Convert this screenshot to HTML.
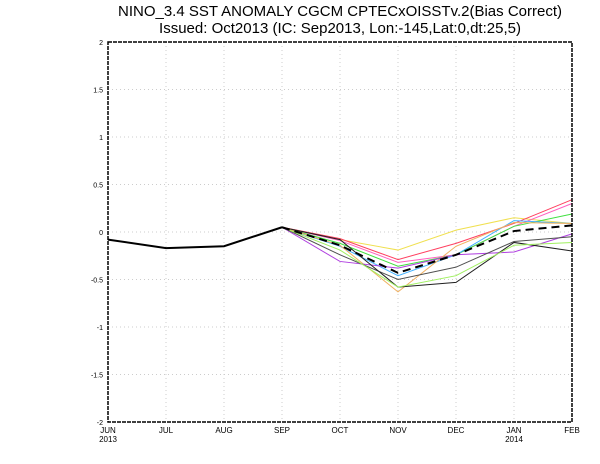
<!DOCTYPE html>
<html><head><meta charset="utf-8"><style>
body{margin:0;background:#fff}
svg{display:block}
text{font-family:"Liberation Sans",sans-serif}
</style></head><body>
<svg id="chart" width="600" height="464">
<text x="340" y="16" font-size="15" text-anchor="middle">NINO_3.4 SST ANOMALY CGCM CPTECxOISSTv.2(Bias Correct)</text>
<text x="340" y="33" font-size="15" text-anchor="middle">Issued: Oct2013 (IC: Sep2013, Lon:-145,Lat:0,dt:25,5)</text>
<g id="grid"></g><g id="series"></g><g id="axes"></g>
</svg>
<script>
const months=["JUN","JUL","AUG","SEP","OCT","NOV","DEC","JAN","FEB"];
const years=["2013","","","","","","","2014",""];
const yTicks=[2,1.5,1,0.5,0,-0.5,-1,-1.5,-2];
const yTickLabels=["2","1.5","1","0.5","0","-0.5","-1","-1.5","-2"];
const observed=[-0.08,-0.17,-0.15,0.05];
const memberColors=["#f0e050","#ff4060","#ff60c0","#40e040","#40b0ff","#f0b060","#b040e0","#505050","#202020","#a0f060"];
const memberYellow=[0.05,-0.08,-0.19,0.02,0.15,0.09];
const memberRed=[0.05,-0.07,-0.29,-0.12,0.09,0.34];
const memberPink=[0.05,-0.09,-0.32,-0.24,0.06,0.30];
const memberGreen=[0.05,-0.12,-0.36,-0.24,0.06,0.19];
const memberCyan=[0.05,-0.15,-0.46,-0.24,0.12,0.09];
const memberOrange=[0.05,-0.14,-0.63,-0.15,0.10,0.09];
const memberPurple=[0.05,-0.31,-0.38,-0.24,-0.21,-0.02];
const memberGray=[0.05,-0.24,-0.50,-0.37,-0.10,-0.05];
const memberBlack=[0.05,-0.08,-0.58,-0.53,-0.11,-0.20];
const memberLime=[0.05,-0.19,-0.58,-0.46,-0.14,-0.11];
const ensembleMean=[0.05,-0.14,-0.43,-0.24,0.01,0.07];
const members=[memberYellow,memberRed,memberPink,memberGreen,memberCyan,memberOrange,memberPurple,memberGray,memberBlack,memberLime];
const memberNames=["yellow","red","pink","green","cyan","orange","purple","gray","black","lime"];
const L=108,R=572,T=42,B=422,ymin=-2,ymax=2;
const xs=i=>L+i*(R-L)/(months.length-1);
const ys=v=>B-(v-ymin)/(ymax-ymin)*(B-T);
const NS="http://www.w3.org/2000/svg";
function mk(tag,attrs,parent){const e=document.createElementNS(NS,tag);for(const k in attrs)e.setAttribute(k,attrs[k]);parent.appendChild(e);return e;}
const grid=document.getElementById("grid"),ser=document.getElementById("series"),ax=document.getElementById("axes");
months.forEach((m,i)=>{
 if(i>0&&i<months.length-1){const g=mk("line",{x1:xs(i),x2:xs(i),y1:T,y2:B,stroke:"#ccc","stroke-dasharray":"1,3"},grid);
 
 }
 const t=mk("text",{x:xs(i),y:B+11,"font-size":"8","text-anchor":"middle"},ax);t.textContent=m;
 
 
 if(years[i]){const y=mk("text",{x:xs(i),y:B+20,"font-size":"8","text-anchor":"middle"},ax);y.textContent=years[i];
 
 }
});
yTicks.forEach((v,i)=>{
 if(v>ymin&&v<ymax){const g=mk("line",{x1:L,x2:R,y1:ys(v),y2:ys(v),stroke:"#ccc","stroke-dasharray":"1,3"},grid);
 
 }
 const t=mk("text",{x:L-5,y:ys(v)+3,"font-size":"7","text-anchor":"end"},ax);t.textContent=yTickLabels[i];
 
 
});
const fr=mk("rect",{x:L,y:T,width:R-L,height:B-T,fill:"none",stroke:"#000","stroke-width":"1.5","stroke-dasharray":"4,1"},ax);


function pts(arr,off){return arr.map((v,i)=>xs(i+off)+","+ys(v)).join(" ");}
members.forEach((arr,k)=>{
 const p=mk("polyline",{points:pts(arr,3),fill:"none",stroke:memberColors[k],"stroke-width":"1"},ser);
 
 
});
const ob=mk("polyline",{points:pts(observed,0),fill:"none",stroke:"#000","stroke-width":"2"},ser);


const en=mk("polyline",{points:pts(ensembleMean,3),fill:"none",stroke:"#000","stroke-width":"2","stroke-dasharray":"8,5"},ser);


</script>
</body></html>
